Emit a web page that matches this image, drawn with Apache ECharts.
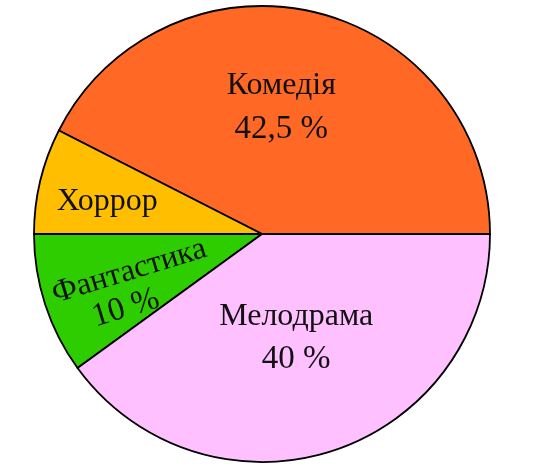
<!DOCTYPE html>
<html>
<head>
<meta charset="utf-8">
<script src="https://cdn.jsdelivr.net/npm/echarts@6/dist/echarts.min.js"></script>
<style>
html,body{margin:0;padding:0;background:#fff;}
#chart{width:535px;height:476px;}
</style>
</head>
<body>
<div id="chart"></div>
<script>
const genres = ['Комедія', 'Хоррор', 'Фантастика', 'Мелодрама'];
const shares = [42.5, 7.5, 10, 40];
const showShare = [true, false, true, true];

const colors = ['#FF6925', '#FFBF00', '#2ECD00', '#FFC0FF'];
const labelOffsets = [[-8, -13], [-41, -5], [-21, 12], [-2, -7]];
const labelRotate = [0, 0, 17, 0];
const lineHeights = [44, 44, 34, 43];
const FONT = 'Liberation Serif';

const fmt = v => String(v).replace('.', ',') + ' %';

const data = genres.map((g, i) => ({
  name: g,
  value: shares[i],
  itemStyle: { color: colors[i] },
  label: {
    offset: labelOffsets[i],
    rotate: labelRotate[i],
    formatter: showShare[i] ? '{n|' + g + '}\n' + (i === 2 ? '{q|' : '{p|') + fmt(shares[i]) + '}' : '{n|' + g + '}',
    lineHeight: lineHeights[i],
    rich: {
      n: { fontFamily: FONT, fontSize: 32, color: '#111', lineHeight: lineHeights[i] },
      p: { fontFamily: FONT, fontSize: 33, color: '#111', lineHeight: lineHeights[i] },
      q: { fontFamily: FONT, fontSize: 33, color: '#111', lineHeight: lineHeights[i], padding: [0, 28, 0, 0] }
    }
  }
}));

const chart = echarts.init(document.getElementById('chart'), null, { renderer: 'canvas' });
chart.setOption({
  animation: false,
  backgroundColor: '#fff',
  series: [{
    type: 'pie',
    center: [262, 234],
    radius: [0, 228],
    startAngle: 0,
    clockwise: false,
    avoidLabelOverlap: false,
    minAngle: 0,
    itemStyle: { borderColor: '#000', borderWidth: 1.8 },
    label: { show: true, position: 'inside', fontFamily: FONT, fontSize: 32, color: '#111' },
    labelLine: { show: false },
    labelLayout: { hideOverlap: false },
    emphasis: { disabled: true },
    data: data
  }]
});
</script>
</body>
</html>
